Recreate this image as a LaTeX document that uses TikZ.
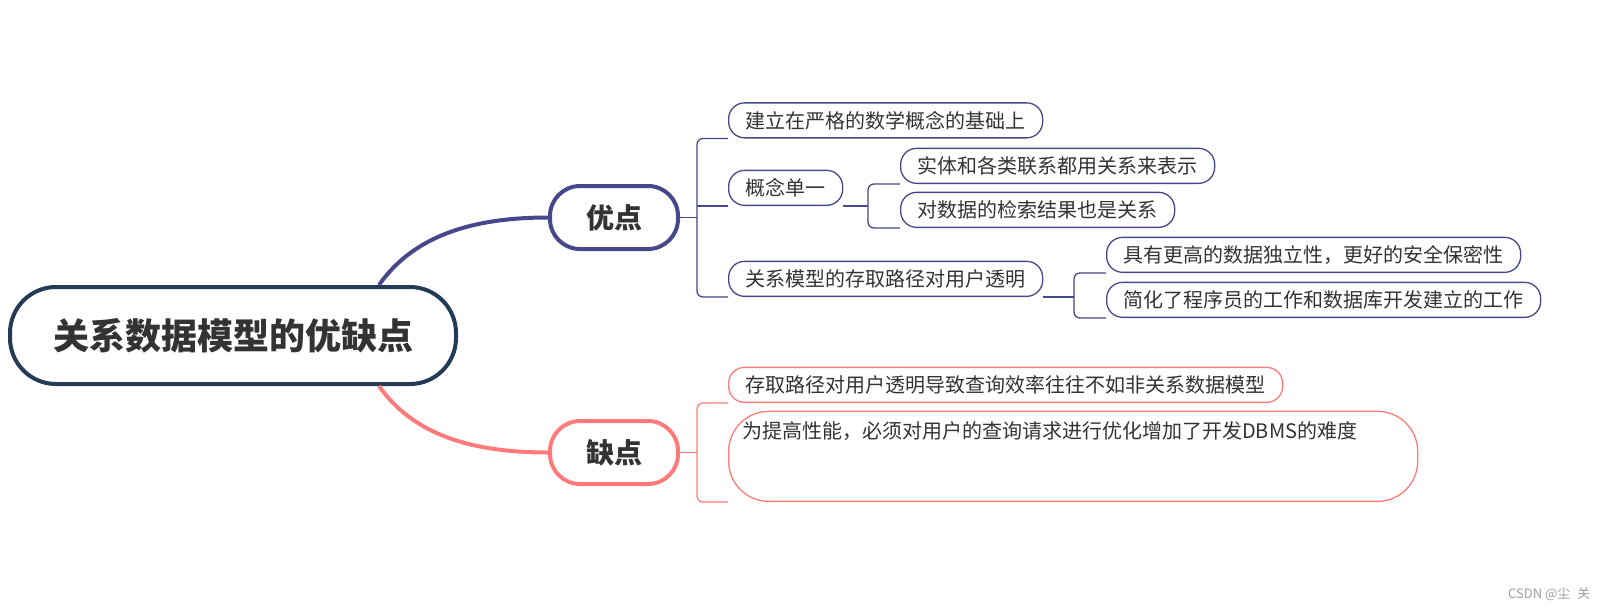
\documentclass[tikz,border=0pt]{standalone}
\usepackage{fontspec}
\setmainfont{Noto Sans CJK SC}
\usetikzlibrary{positioning, calc}
\definecolor{rootc}{HTML}{243A57}
\definecolor{prosc}{HTML}{47478C}
\definecolor{consc}{HTML}{FF7B7B}
\definecolor{txt}{HTML}{333333}
\tikzset{
  root/.style={draw=rootc, line width=4pt, rounded corners=46pt, fill=white, minimum height=97pt, inner xsep=43pt, font=\fontsize{36}{40}\selectfont\bfseries, text=txt},
  side/.style={draw=#1, line width=4pt, rounded corners=30pt, fill=white, minimum height=63pt, inner xsep=36pt, font=\fontsize{28}{32}\selectfont\bfseries, text=txt},
  leaf/.style={draw=#1, line width=1.3pt, rounded corners=16pt, minimum height=35pt, inner xsep=17pt, font=\fontsize{20}{24}\selectfont, text=txt, anchor=south west},
  link/.style={draw=#1, line width=1.3pt, rounded corners=6pt},
  trunk/.style={draw=#1, line width=4pt}
}
\begin{document}
\begin{tikzpicture}[x=1pt, y=-1pt]
\fill[white] (0,0) rectangle (1609,611);
\useasboundingbox (0,0) rectangle (1609,611);
% main nodes
\node[root] (root) at (233,335.5) {关系数据模型的优缺点};
\node[side=prosc] (pro) at (614,217.5) {优点};
\node[side=consc] (con) at (614,452.5) {缺点};
\draw[trunk=prosc] ([xshift=-79pt]root.north east) .. controls +(33,-47) and +(-80,0) .. (pro.west);
\draw[trunk=consc] ([xshift=-79pt]root.south east) .. controls +(33,47) and +(-80,0) .. (con.west);
% advantages
\node[leaf=prosc] (p1) at (728,138.5) {建立在严格的数学概念的基础上};
\node[leaf=prosc] (p2) at (728,206) {概念单一};
\node[leaf=prosc] (p2a) at (900,184) {实体和各类联系都用关系来表示};
\node[leaf=prosc] (p2b) at (900,228) {对数据的检索结果也是关系};
\node[leaf=prosc] (p3) at (728,297) {关系模型的存取路径对用户透明};
\node[leaf=prosc] (p3a) at (1106,273) {具有更高的数据独立性，更好的安全保密性};
\node[leaf=prosc] (p3b) at (1106,318) {简化了程序员的工作和数据库开发建立的工作};
\coordinate (pbr) at (697,217.5);
\coordinate (p2br) at (868,206);
\coordinate (p3br) at (1074,297);
\draw[link=prosc] (p1.south west) -| (pbr) |- (p3.south west);
\draw[link=prosc] (pro.east) -- (pbr);
\draw[link=prosc] (p2.south west) -- (p2.south west -| pbr);
\draw[link=prosc] (p2a.south west) -| (p2br) |- (p2b.south west);
\draw[link=prosc] (p2.south east) -- (p2br);
\draw[link=prosc] (p3a.south west) -| (p3br) |- (p3b.south west);
\draw[link=prosc] (p3.south east) -- (p3br);
% disadvantages
\node[leaf=consc] (c1) at (728,403) {存取路径对用户透明导致查询效率往往不如非关系数据模型};
\node[leaf=consc, rounded corners=40pt, inner xsep=13.5pt, inner ysep=0pt, text width=662pt, align=left, text height=27pt, text depth=63pt] (c2) at (728,502) {为提高性能，必须对用户的查询请求进行优化增加了开发DBMS的难度};
\coordinate (cbr) at (697,452.5);
\draw[link=consc] (c1.south west) -| (cbr) |- (c2.south west);
\draw[link=consc] (con.east) -- (cbr);
\node[font=\fontsize{13}{15}\selectfont, text=gray!75, anchor=east] (mark) at (1594,594) {CSDN @尘\hspace{7pt}关};
\end{tikzpicture}
\end{document}
